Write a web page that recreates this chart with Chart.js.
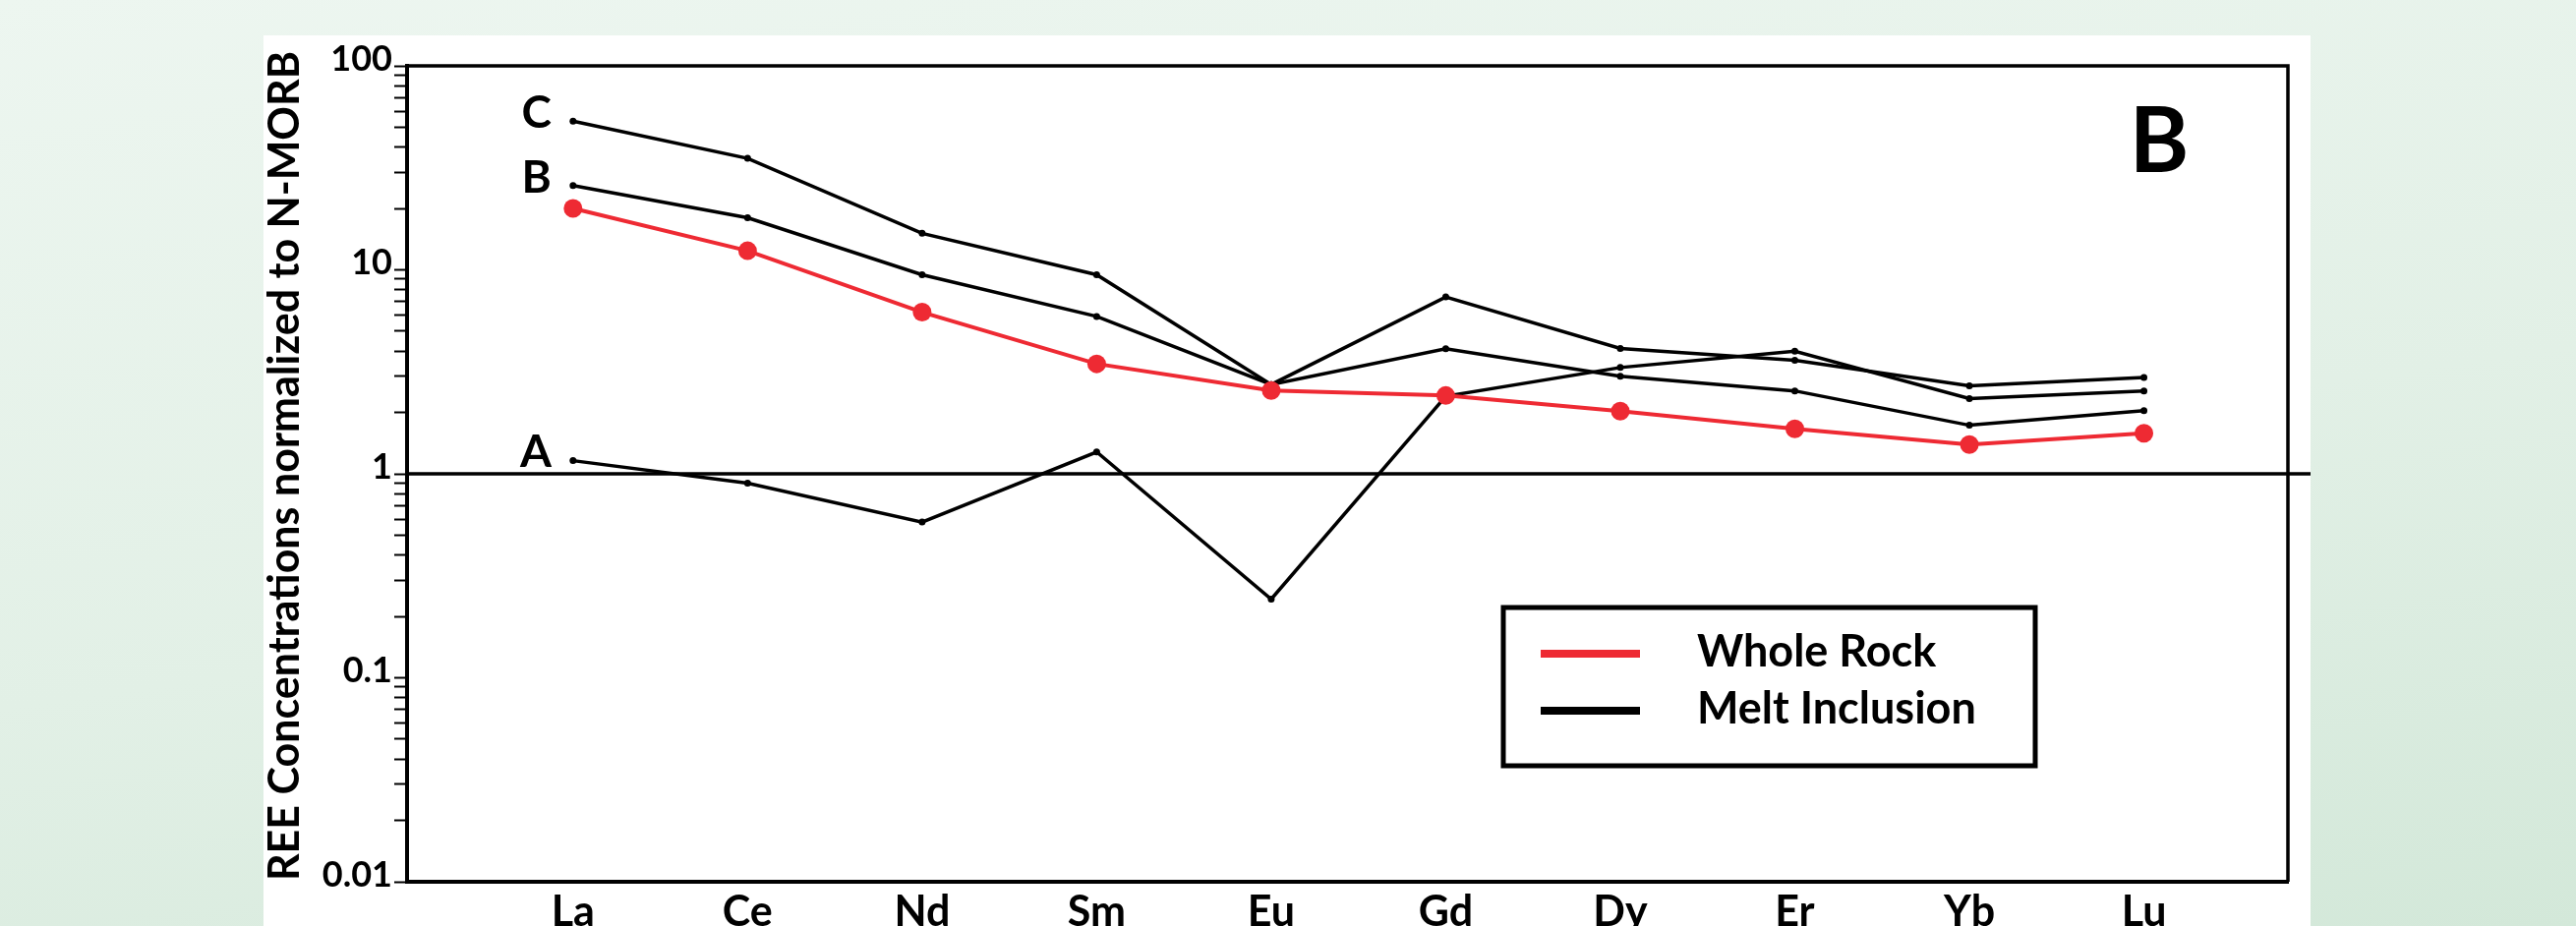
<!DOCTYPE html>
<html>
<head>
<meta charset="utf-8">
<script src="https://cdn.jsdelivr.net/npm/chart.js@4.4.1/dist/chart.umd.min.js"></script>
<style>
  html, body { margin: 0; padding: 0; }
  body {
    width: 2620px; height: 942px; overflow: hidden; position: relative;
    background: linear-gradient(172deg, #edf6f0 0%, #e2f0e6 55%, #d3e8d9 100%);
  }
  #panel { position: absolute; left: 268px; top: 36px; width: 2082px; height: 906px; background: #fff; }
  #wrap { position: absolute; left: 0; top: 0; width: 2620px; height: 942px; }
</style>
</head>
<body>
<div id="panel"></div>
<div id="wrap"><canvas id="ree"></canvas></div>
<script>
// REE spider diagram, normalized to N-MORB
const elements = ['La', 'Ce', 'Nd', 'Sm', 'Eu', 'Gd', 'Dy', 'Er', 'Yb', 'Lu'];
const wholeRock = [20.0, 12.4, 6.2, 3.46, 2.56, 2.42, 2.03, 1.66, 1.39, 1.58];
const meltA = [1.16, 0.90, 0.58, 1.28, 0.243, 2.40, 3.32, 3.99, 2.34, 2.55];
const meltB = [25.9, 18.0, 9.46, 5.91, 2.74, 4.10, 3.01, 2.55, 1.73, 2.04];
const meltC = [53.6, 35.2, 15.1, 9.46, 2.74, 7.36, 4.12, 3.60, 2.70, 2.97];
const sampleNames = ['A', 'B', 'C'];
const yTickLabels = [0.01, 0.1, 1, 10, 100];
const yTitle = 'REE Concentrations normalized to N-MORB';
const panelLetter = 'B';

const FONT = 'Lato';
const RED = '#ee2a33';

function toPoints(arr) {
  return arr.map((v, i) => ({x: i, y: v}));
}

function meltSet(arr, name) {
  return {
    label: 'Melt Inclusion',
    sample: name,
    data: toPoints(arr),
    borderColor: '#000',
    backgroundColor: '#000',
    borderWidth: 3.5,
    pointRadius: 3.5,
    pointBorderWidth: 0,
    tension: 0
  };
}

// frame, N-MORB = 1 line
const framePlugin = {
  id: 'frame',
  beforeDatasetsDraw(chart) {
    const {ctx, chartArea} = chart;
    const y1 = chart.scales.y.getPixelForValue(1);
    ctx.save();
    ctx.strokeStyle = '#000';
    ctx.lineWidth = 3.5;
    ctx.beginPath();
    ctx.moveTo(chartArea.left, chartArea.top);
    ctx.lineTo(chartArea.right, chartArea.top);
    ctx.lineTo(chartArea.right, chartArea.bottom);
    ctx.stroke();
    ctx.beginPath();
    ctx.moveTo(chartArea.left, y1);
    ctx.lineTo(chartArea.right + 23, y1);
    ctx.stroke();
    ctx.restore();
  }
};

// y title drawn by hand so it is not squeezed to the axis height
const titlePlugin = {
  id: 'ytitle',
  afterDraw(chart) {
    const {ctx, chartArea} = chart;
    ctx.save();
    ctx.translate(chartArea.left - 124, (chartArea.top + chartArea.bottom) / 2 - 8);
    ctx.rotate(-Math.PI / 2);
    ctx.fillStyle = '#000';
    ctx.textAlign = 'center';
    ctx.textBaseline = 'middle';
    ctx.font = 'bold 43px ' + FONT;
    ctx.fillText(yTitle, 0, 0);
    ctx.restore();
  }
};

// sample tags, panel letter and boxed legend
const notesPlugin = {
  id: 'notes',
  afterDatasetsDraw(chart) {
    const {ctx, chartArea} = chart;
    ctx.save();
    ctx.fillStyle = '#000';
    ctx.textAlign = 'right';
    ctx.textBaseline = 'middle';
    ctx.font = 'bold 46px ' + FONT;
    chart.data.datasets.forEach((ds, i) => {
      if (!ds.sample) return;
      const p = chart.getDatasetMeta(i).data[0];
      ctx.fillText(ds.sample, p.x - 22, p.y - 8);
    });

    ctx.textAlign = 'center';
    ctx.font = 'bold 92px ' + FONT;
    ctx.fillText(panelLetter, chartArea.right - 131, chartArea.top + 78);

    // legend box
    const bx = chartArea.left + 1115, by = chartArea.top + 551, bw = 541, bh = 161;
    ctx.lineWidth = 5;
    ctx.strokeStyle = '#000';
    ctx.strokeRect(bx, by, bw, bh);
    const seen = [];
    chart.data.datasets.forEach(ds => {
      if (!seen.find(s => s.label === ds.label)) seen.push(ds);
    });
    ctx.textAlign = 'left';
    ctx.font = 'bold 45px ' + FONT;
    seen.forEach((ds, k) => {
      const ly = by + 47 + k * 58;
      ctx.strokeStyle = ds.borderColor;
      ctx.lineWidth = 8;
      ctx.beginPath();
      ctx.moveTo(bx + 38, ly);
      ctx.lineTo(bx + 139, ly);
      ctx.stroke();
      ctx.fillText(ds.label, bx + 197, ly - 2);
    });
    ctx.restore();
  }
};

new Chart(document.getElementById('ree'), {
  type: 'line',
  data: {
    datasets: [
      {
        label: 'Whole Rock',
        data: toPoints(wholeRock),
        borderColor: RED,
        backgroundColor: RED,
        borderWidth: 4,
        pointRadius: 9.5,
        pointBorderWidth: 0,
        tension: 0
      },
      meltSet(meltA, sampleNames[0]),
      meltSet(meltB, sampleNames[1]),
      meltSet(meltC, sampleNames[2])
    ]
  },
  options: {
    responsive: true,
    maintainAspectRatio: false,
    animation: false,
    layout: { padding: { left: 255, right: 293, top: 67, bottom: 0 } },
    plugins: {
      legend: { display: false },
      tooltip: { enabled: false }
    },
    scales: {
      x: {
        type: 'linear',
        min: -0.951,
        max: 9.825,
        afterBuildTicks(scale) {
          scale.ticks = elements.map((e, i) => ({value: i}));
        },
        afterFit(scale) { scale.height = 45; },
        grid: { display: true, drawOnChartArea: false, drawTicks: false },
        border: { display: true, color: '#000', width: 4 },
        ticks: {
          autoSkip: false,
          maxRotation: 0,
          padding: 5,
          color: '#000',
          font: { family: FONT, size: 43, weight: 'bold' },
          callback: v => elements[v]
        }
      },
      y: {
        type: 'logarithmic',
        min: 0.01,
        max: 100,
        afterBuildTicks(scale) {
          const ticks = [];
          for (let d = 0; d < yTickLabels.length; d++) {
            const dec = yTickLabels[d];
            ticks.push({value: dec, major: true});
            if (d === yTickLabels.length - 1) break;
            for (let m = 2; m <= 9; m++) ticks.push({value: dec * m});
          }
          scale.ticks = ticks;
        },
        afterFit(scale) { scale.width = 159; },
        grid: {
          drawOnChartArea: false,
          drawTicks: true,
          tickLength: 13,
          tickWidth: 2,
          tickColor: '#000'
        },
        border: { display: true, color: '#000', width: 4 },
        ticks: {
          autoSkip: false,
          padding: 2,
          labelOffset: -7,
          color: '#000',
          font: { family: FONT, size: 36, weight: 'bold' },
          callback: v => (yTickLabels.includes(v) ? String(v) : '')
        }
      }
    }
  },
  plugins: [framePlugin, titlePlugin, notesPlugin]
});
</script>
</body>
</html>
